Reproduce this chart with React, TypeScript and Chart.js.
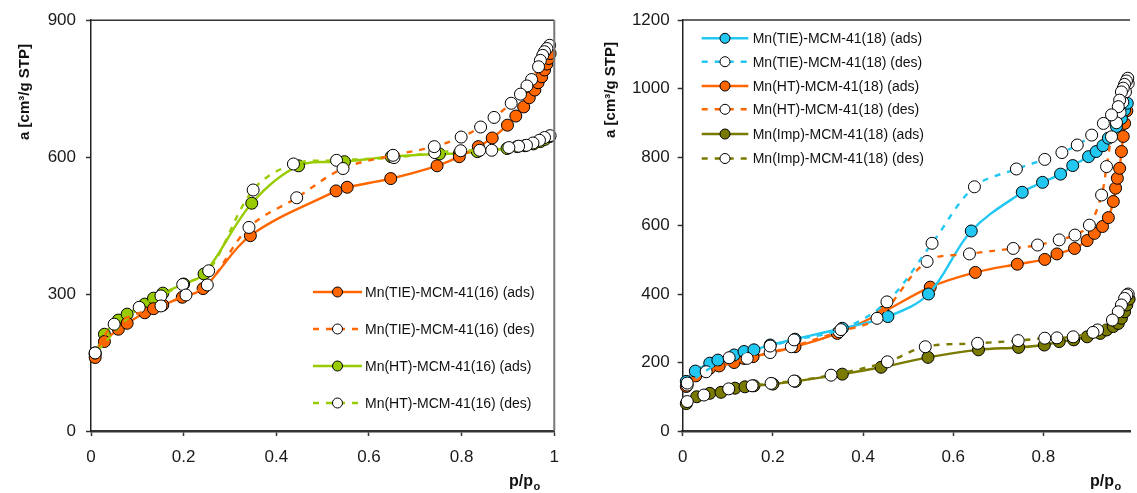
import React, { useEffect, useRef } from "react";
import { Chart, registerables } from "chart.js";
Chart.register(...registerables);

const FONT = "'Liberation Sans', Arial, Helvetica, sans-serif";

// ---------- Left chart (MCM-41(16)) ----------
const leftXTicks = [0, 0.2, 0.4, 0.6, 0.8, 1];
const leftYTicks = [0, 300, 600, 900];

const tie16AdsX = [0.009, 0.029, 0.059, 0.078, 0.116, 0.135, 0.155, 0.197, 0.242, 0.344, 0.529, 0.553, 0.647, 0.747, 0.795, 0.836, 0.866, 0.899, 0.917, 0.934, 0.946, 0.958, 0.965, 0.973, 0.979, 0.984, 0.988, 0.991];
const tie16AdsY = [161, 196, 223, 236, 259, 268, 276, 293, 312, 428, 526, 534, 553, 581, 601, 623, 642, 670, 690, 710, 730, 747, 763, 776, 791, 804, 816, 827];

const tie16DesX = [0.990, 0.984, 0.979, 0.975, 0.970, 0.966, 0.951, 0.941, 0.927, 0.907, 0.870, 0.841, 0.799, 0.741, 0.652, 0.544, 0.444, 0.341, 0.251, 0.205, 0.151, 0.050, 0.009];
const tie16DesY = [845, 838, 831, 823, 812, 798, 770, 756, 738, 718, 687, 666, 644, 623, 604, 575, 511, 446, 320, 298, 274, 234, 171];

const ht16AdsX = [0.009, 0.029, 0.059, 0.078, 0.116, 0.135, 0.155, 0.200, 0.244, 0.347, 0.448, 0.547, 0.648, 0.752, 0.795, 0.834, 0.898, 0.920, 0.937, 0.955, 0.970, 0.980, 0.990];
const ht16AdsY = [168, 212, 243, 256, 278, 291, 302, 322, 344, 499, 581, 590, 601, 607, 608, 612, 619, 623, 625, 629, 634, 639, 645];

const ht16DesX = [0.991, 0.979, 0.968, 0.954, 0.940, 0.923, 0.902, 0.865, 0.839, 0.798, 0.742, 0.654, 0.530, 0.437, 0.350, 0.254, 0.198, 0.151, 0.104, 0.009];
const ht16DesY = [647, 643, 637, 631, 626, 624, 621, 615, 615, 614, 610, 599, 593, 585, 528, 351, 321, 296, 271, 171];

const leftLabels = [
  "Mn(TIE)-MCM-41(16) (ads)",
  "Mn(TIE)-MCM-41(16) (des)",
  "Mn(HT)-MCM-41(16) (ads)",
  "Mn(HT)-MCM-41(16) (des)",
];

// ---------- Right chart (MCM-41(18)) ----------
const rightXTicks = [0, 0.2, 0.4, 0.6, 0.8];
const rightYTicks = [0, 200, 400, 600, 800, 1000, 1200];

const tie18AdsX = [0.008, 0.028, 0.060, 0.078, 0.114, 0.136, 0.158, 0.194, 0.249, 0.354, 0.455, 0.545, 0.640, 0.753, 0.798, 0.838, 0.865, 0.900, 0.917, 0.932, 0.944, 0.962, 0.973, 0.980, 0.986];
const tie18AdsY = [145, 175, 198, 207, 222, 232, 237, 251, 268, 300, 334, 400, 584, 697, 726, 750, 775, 801, 816, 833, 855, 889, 913, 937, 957];

const tie18DesX = [0.987, 0.984, 0.980, 0.977, 0.973, 0.969, 0.966, 0.951, 0.933, 0.907, 0.875, 0.841, 0.803, 0.740, 0.647, 0.553, 0.453, 0.351, 0.247, 0.194, 0.103, 0.010];
const tie18DesY = [1030, 1022, 1012, 1001, 990, 966, 947, 923, 898, 864, 835, 813, 793, 765, 713, 548, 377, 296, 266, 248, 214, 140];

const ht18AdsX = [0.008, 0.029, 0.060, 0.081, 0.114, 0.136, 0.156, 0.249, 0.343, 0.444, 0.549, 0.649, 0.742, 0.803, 0.830, 0.869, 0.897, 0.913, 0.931, 0.944, 0.955, 0.960, 0.964, 0.969, 0.973, 0.977, 0.980, 0.985];
const ht18AdsY = [130, 161, 183, 190, 200, 212, 217, 246, 285, 347, 420, 463, 487, 501, 517, 533, 556, 577, 597, 623, 670, 709, 738, 767, 816, 860, 898, 935];

const ht18DesX = [0.988, 0.982, 0.976, 0.970, 0.962, 0.951, 0.940, 0.929, 0.902, 0.870, 0.835, 0.787, 0.733, 0.636, 0.542, 0.431, 0.347, 0.241, 0.194, 0.143, 0.052, 0.010];
const ht18DesY = [1015, 990, 960, 930, 900, 859, 772, 689, 601, 572, 558, 543, 533, 517, 495, 329, 290, 246, 229, 212, 173, 134];

const imp18AdsX = [0.008, 0.031, 0.060, 0.085, 0.116, 0.138, 0.158, 0.200, 0.250, 0.354, 0.440, 0.544, 0.656, 0.745, 0.802, 0.835, 0.867, 0.897, 0.926, 0.940, 0.955, 0.966, 0.973, 0.980, 0.985, 0.990];
const imp18AdsY = [80, 100, 110, 113, 125, 129, 132, 137, 145, 166, 186, 215, 237, 244, 251, 261, 266, 275, 285, 295, 305, 314, 329, 348, 368, 385];

const imp18DesX = [0.988, 0.985, 0.980, 0.973, 0.966, 0.953, 0.920, 0.910, 0.866, 0.830, 0.803, 0.744, 0.654, 0.538, 0.454, 0.329, 0.247, 0.196, 0.154, 0.102, 0.047, 0.010];
const imp18DesY = [400, 397, 387, 368, 348, 324, 295, 288, 275, 272, 271, 264, 256, 246, 202, 163, 146, 139, 132, 123, 105, 86];

const rightLabels = [
  "Mn(TIE)-MCM-41(18) (ads)",
  "Mn(TIE)-MCM-41(18) (des)",
  "Mn(HT)-MCM-41(18) (ads)",
  "Mn(HT)-MCM-41(18) (des)",
  "Mn(Imp)-MCM-41(18) (ads)",
  "Mn(Imp)-MCM-41(18) (des)",
];

const ORANGE = "#FF6600";
const GREEN = "#99CC00";
const CYAN = "#22C8F2";
const OLIVE = "#7A7A00";
const DASH = [6, 7];

function zip(xs: number[], ys: number[]) {
  return xs.map((x, i) => ({ x, y: ys[i] }));
}

function series(label: string, xs: number[], ys: number[], color: string, des: boolean) {
  return {
    label,
    data: zip(xs, ys),
    showLine: true,
    borderColor: color,
    borderWidth: 2.4,
    borderDash: des ? DASH : [],
    backgroundColor: color,
    pointBackgroundColor: des ? "#ffffff" : color,
    pointBorderColor: "#000000",
    pointBorderWidth: 1,
    pointRadius: 6,
    tension: 0.35,
    clip: false as any,
    order: des ? 0 : 1,
  };
}

type LegendCfg = { lineX0: number; lineX1: number; textX: number; rows: number[] };
type FrameCfg = { right: boolean };
type TitleCfg = { yx: number; yy: number; px: number; py: number };

const decorPlugin = {
  id: "decor",
  afterDraw(chart: any, _args: any, opts: any) {
    const ctx = chart.ctx as CanvasRenderingContext2D;
    const ca = chart.chartArea;
    const legend: LegendCfg = opts.legend;
    const frame: FrameCfg = opts.frame;
    const title: TitleCfg = opts.title;
    ctx.save();
    // frame
    ctx.strokeStyle = "#333";
    ctx.lineWidth = 1.5;
    ctx.beginPath();
    ctx.moveTo(ca.left, ca.top);
    ctx.lineTo(ca.right, ca.top);
    ctx.stroke();
    if (frame.right) {
      ctx.strokeStyle = "#777";
      ctx.lineWidth = 2;
      ctx.beginPath();
      ctx.moveTo(ca.right, ca.top);
      ctx.lineTo(ca.right, ca.bottom);
      ctx.stroke();
    }
    // legend
    chart.data.datasets.forEach((ds: any, i: number) => {
      const y = legend.rows[i];
      if (y === undefined) return;
      ctx.strokeStyle = ds.borderColor;
      ctx.lineWidth = 2.4;
      ctx.setLineDash(ds.borderDash || []);
      ctx.beginPath();
      ctx.moveTo(legend.lineX0, y);
      ctx.lineTo(legend.lineX1, y);
      ctx.stroke();
      ctx.setLineDash([]);
      const mx = (legend.lineX0 + legend.lineX1) / 2;
      ctx.fillStyle = ds.pointBackgroundColor;
      ctx.strokeStyle = "#000";
      ctx.lineWidth = 1;
      ctx.beginPath();
      ctx.arc(mx, y, 5, 0, Math.PI * 2);
      ctx.fill();
      ctx.stroke();
      ctx.fillStyle = "#111";
      ctx.font = `14px ${FONT}`;
      ctx.textAlign = "left";
      ctx.textBaseline = "middle";
      ctx.fillText(ds.label, legend.textX, y + 1);
    });
    // y title
    ctx.fillStyle = "#111";
    ctx.save();
    ctx.translate(title.yx, title.yy);
    ctx.rotate(-Math.PI / 2);
    ctx.font = `bold 15px ${FONT}`;
    ctx.textAlign = "center";
    ctx.textBaseline = "middle";
    ctx.fillText("a [cm³/g STP]", 0, 0);
    ctx.restore();
    // x title p/po
    ctx.font = `bold 16px ${FONT}`;
    ctx.textAlign = "left";
    ctx.textBaseline = "alphabetic";
    ctx.fillText("p/p", title.px, title.py);
    const w = ctx.measureText("p/p").width;
    ctx.font = `bold 11px ${FONT}`;
    ctx.fillText("o", title.px + w + 0.5, title.py + 4);
    ctx.restore();
  },
};

function makeOptions(
  xTicks: number[],
  yTicks: number[],
  xMax: number,
  yMax: number,
  yWidth: number,
  padRight: number,
  legend: LegendCfg,
  frame: FrameCfg,
  title: TitleCfg,
  yPad: number
) {
  const tickFont = { family: FONT, size: 17 };
  return {
    responsive: false,
    animation: false as const,
    layout: { padding: { top: 20, right: padRight, left: 0, bottom: 0 } },
    plugins: {
      legend: { display: false },
      tooltip: { enabled: false },
      decor: { legend, frame, title },
    },
    scales: {
      x: {
        type: "linear" as const,
        min: 0,
        max: xMax,
        afterBuildTicks: (s: any) => {
          s.ticks = xTicks.map((v) => ({ value: v }));
        },
        afterFit: (s: any) => {
          s.height = 62;
        },
        ticks: {
          font: tickFont,
          color: "#1a1a1a",
          padding: 11,
          maxRotation: 0,
          callback: (v: any) => String(v),
        },
        grid: {
          display: true,
          drawOnChartArea: false,
          drawTicks: true,
          tickLength: 5,
          tickWidth: 1.5,
          tickColor: "#333",
        },
        border: { display: true, color: "#333", width: 2.5 },
      },
      y: {
        type: "linear" as const,
        min: 0,
        max: yMax,
        afterBuildTicks: (s: any) => {
          s.ticks = yTicks.map((v) => ({ value: v }));
        },
        afterFit: (s: any) => {
          s.width = yWidth;
        },
        ticks: {
          font: tickFont,
          color: "#1a1a1a",
          padding: yPad,
          callback: (v: any) => String(v),
        },
        grid: {
          display: true,
          drawOnChartArea: false,
          drawTicks: true,
          tickLength: 5,
          tickWidth: 1.5,
          tickColor: "#333",
        },
        border: { display: true, color: "#222", width: 1.5 },
      },
    },
  };
}

function ChartCanvas(props: { width: number; height: number; left: number; build: () => any }) {
  const ref = useRef<HTMLCanvasElement | null>(null);
  useEffect(() => {
    if (!ref.current) return;
    const chart = new Chart(ref.current, props.build());
    return () => chart.destroy();
  }, []);
  return (
    <canvas
      ref={ref}
      width={props.width}
      height={props.height}
      style={{ position: "absolute", left: props.left, top: 0, width: props.width, height: props.height }}
    />
  );
}

function buildLeft() {
  return {
    type: "scatter" as const,
    data: {
      datasets: [
        series(leftLabels[0], tie16AdsX, tie16AdsY, ORANGE, false),
        series(leftLabels[1], tie16DesX, tie16DesY, ORANGE, true),
        series(leftLabels[2], ht16AdsX, ht16AdsY, GREEN, false),
        series(leftLabels[3], ht16DesX, ht16DesY, GREEN, true),
      ],
    },
    options: makeOptions(
      leftXTicks,
      leftYTicks,
      1,
      900,
      91,
      13,
      { lineX0: 313, lineX1: 362, textX: 365, rows: [292, 329, 366, 403] },
      { right: true },
      { yx: 25, yy: 92, px: 509, py: 486 },
      10
    ),
    plugins: [decorPlugin],
  };
}

const RIGHT_LEFT = 585;

function buildRight() {
  return {
    type: "scatter" as const,
    data: {
      datasets: [
        series(rightLabels[0], tie18AdsX, tie18AdsY, CYAN, false),
        series(rightLabels[1], tie18DesX, tie18DesY, CYAN, true),
        series(rightLabels[2], ht18AdsX, ht18AdsY, ORANGE, false),
        series(rightLabels[3], ht18DesX, ht18DesY, ORANGE, true),
        series(rightLabels[4], imp18AdsX, imp18AdsY, OLIVE, false),
        series(rightLabels[5], imp18DesX, imp18DesY, OLIVE, true),
      ],
    },
    options: makeOptions(
      rightXTicks,
      rightYTicks,
      0.992,
      1200,
      97.7,
      0,
      {
        lineX0: 701.7 - RIGHT_LEFT,
        lineX1: 748.3 - RIGHT_LEFT,
        textX: 752.7 - RIGHT_LEFT,
        rows: [38.3, 61.7, 86, 109.3, 134, 158.5],
      },
      { right: false },
      { yx: 611 - RIGHT_LEFT, yy: 90, px: 1090 - RIGHT_LEFT, py: 486 },
      8
    ),
    plugins: [decorPlugin],
  };
}

export default function App() {
  return (
    <div style={{ position: "absolute", left: 0, top: 0, width: 1137, height: 493, background: "#fff", overflow: "hidden" }}>
      <ChartCanvas width={570} height={493} left={0} build={buildLeft} />
      <ChartCanvas width={1137 - RIGHT_LEFT} height={493} left={RIGHT_LEFT} build={buildRight} />
    </div>
  );
}
